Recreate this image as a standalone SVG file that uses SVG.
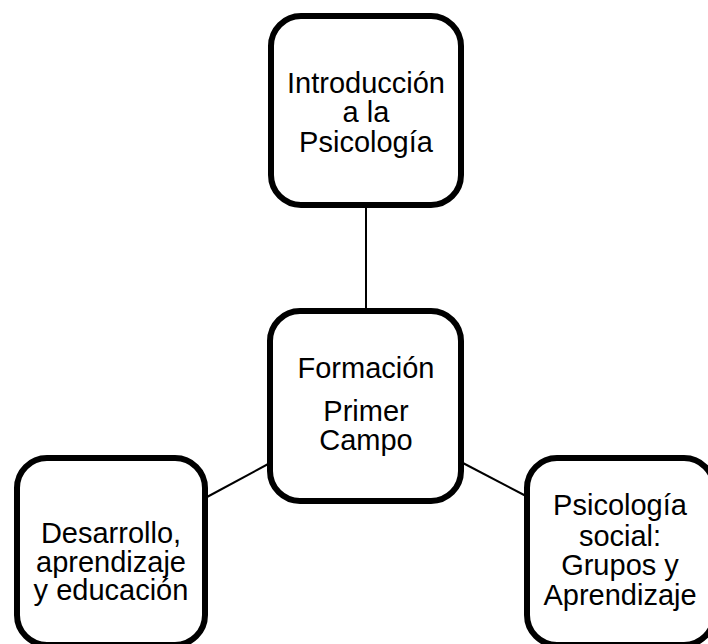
<svg xmlns="http://www.w3.org/2000/svg" width="708" height="644" viewBox="0 0 708 644">
<style>
.box{fill:#fff;stroke:#000;stroke-width:6}
.t{font-family:"Liberation Sans",Arial,sans-serif;font-size:29px;fill:#000;text-anchor:middle}
.c{stroke:#000;stroke-width:2;fill:none}
</style>
<rect width="708" height="644" fill="#fff"/>
<g id="connectors">
<line class="c" x1="366" y1="205" x2="366" y2="311"/>
<line class="c" x1="270" y1="463" x2="207" y2="497"/>
<line class="c" x1="461" y1="462" x2="526" y2="496"/>
</g>
<g id="n-intro">
<rect class="box" x="271" y="16" width="190" height="189" rx="30"/>
<text class="t" x="366" y="93">Introducción</text>
<text class="t" x="366" y="122">a la</text>
<text class="t" x="366" y="152">Psicología</text>
</g>
<g id="n-formacion">
<rect class="box" x="270" y="311" width="191" height="190" rx="30"/>
<text class="t" x="366" y="378">Formación</text>
<text class="t" x="366" y="421">Primer</text>
<text class="t" x="366" y="450">Campo</text>
</g>
<g id="n-desarrollo">
<rect class="box" x="17" y="458" width="188" height="187" rx="30"/>
<text class="t" x="111" y="543">Desarrollo,</text>
<text class="t" x="111" y="572">aprendizaje</text>
<text class="t" x="111" y="600">y educación</text>
</g>
<g id="n-social">
<rect class="box" x="527" y="458" width="187" height="187" rx="30"/>
<text class="t" x="620" y="515">Psicología</text>
<text class="t" x="620" y="546">social:</text>
<text class="t" x="620" y="575">Grupos y</text>
<text class="t" x="620" y="605">Aprendizaje</text>
</g>
</svg>
